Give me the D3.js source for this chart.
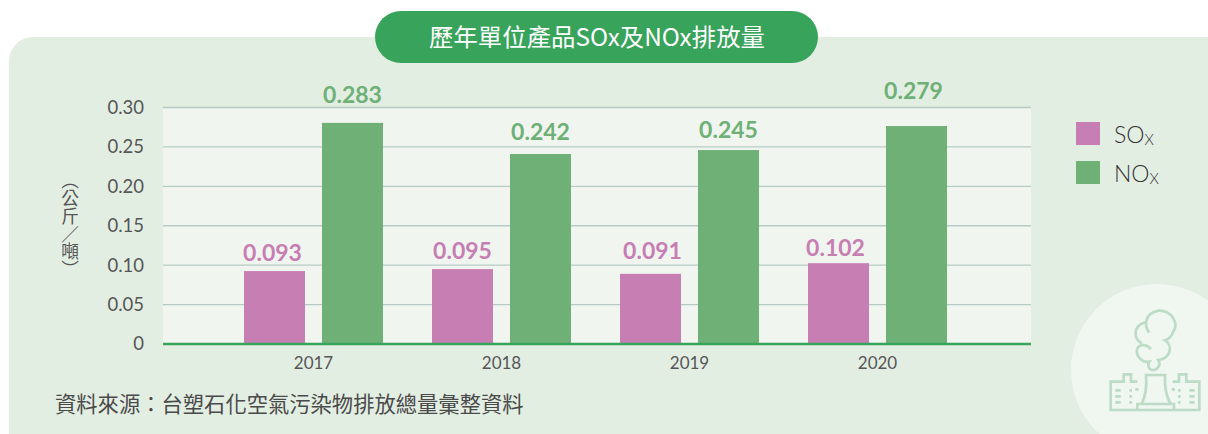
<!DOCTYPE html>
<html><head><meta charset="utf-8">
<script src="https://d3js.org/d3.v7.min.js"></script>
<style>
html,body{margin:0;padding:0;background:#fff;overflow:hidden}
svg{display:block}
text{font-family:Lato,"Noto Sans CJK TC",sans-serif}
</style></head><body>
<svg id="c" width="1208" height="434"></svg>
<script>
const title = "歷年單位產品SOx及NOx排放量";
const source = "資料來源：台塑石化空氣污染物排放總量彙整資料";
const yTitle = "（公斤／噸）";
const categories = ["2017","2018","2019","2020"];
const seriesNames = ["SOx","NOx"];
const soxPrinted = ["0.093","0.095","0.091","0.102"];
const noxPrinted = ["0.283","0.242","0.245","0.279"];
// heights as drawn in the picture (the bars differ slightly from their printed labels)
const soxBars = [0.0925,0.095,0.089,0.1025];
const noxBars = [0.2805,0.241,0.246,0.2765];
const soxLabelGap = [10,10,15,7];
const noxLabelGap = [19.5,14,12,27];
const soxLabelShift = [-2,0,2,-3];
const noxLabelShift = [0,0,0,-3];
const yTicks = [0,0.05,0.10,0.15,0.20,0.25,0.30];
const colors = {SOx:"#c77eb3",NOx:"#6eb076"};

const svg = d3.select("#c");
svg.append("rect").attr("x",9).attr("y",37).attr("width",1240).attr("height",440).attr("rx",24).attr("fill","#e3eee3");
svg.append("circle").attr("cx",1157).attr("cy",370).attr("r",86).attr("fill","#f0f6f0");

// icon
const icon = svg.append("g").attr("transform","translate(1050,280) scale(0.3333)")
  .attr("fill","none").attr("stroke","#bcdcc5").attr("stroke-width",8);
icon.append("path").attr("d","M298,158 C280,135 285,100 325,92 C365,90 387,130 370,155 C365,170 355,178 345,181 C368,195 365,235 325,240 C335,255 320,272 308,270 C295,268 292,255 298,245 C275,250 255,225 262,205 C268,195 285,188 303,207 M275,190 C250,175 248,140 285,127");
icon.append("path").attr("d","M262,305 H243 V283 H221 V305 H182 V390 H448 V305 H409 V283 H387 V305 H368");
icon.append("path").attr("d","M262,388 V372 H275 C286,350 291,320 288,285 H345 C343,320 349,350 362,372 H372 V388 M275,372 H362");
icon.append("path").attr("d","M196,331 H212 M196,349 H212 M196,367 H212 M418,331 H434 M418,349 H434 M418,367 H434");
icon.append("path").attr("d","M238,331 H246 M238,349 H246 M238,367 H246 M256,328 H266 M384,331 H392 M384,349 H392 M384,367 H392 M365,328 H375");

const yScale = d3.scaleLinear().domain([0,0.3]).range([344,107.5]);
const x0 = d3.scaleBand().domain(categories).range([219.5,971.5]);
const x1 = d3.scaleBand().domain(seriesNames).range([24.5,163.5]).paddingInner(0.218).paddingOuter(0);

svg.append("rect").attr("x",163).attr("y",yScale(0.3)).attr("width",868).attr("height",yScale(0)-yScale(0.3)).attr("fill","#f0f5ef");

const yAxis = d3.axisLeft(yScale).tickValues(yTicks).tickSize(0).tickPadding(19)
  .tickFormat(d=>d===0?"0":d3.format(".2f")(d));
const gy = svg.append("g").attr("transform","translate(163,0)").call(yAxis);
gy.select(".domain").remove();
gy.selectAll("text").attr("font-size",18.5).attr("fill","#565656").attr("font-family","Lato");
svg.append("g").selectAll("line").data(yTicks.filter(d=>d>0)).join("line")
  .attr("x1",163).attr("x2",1031).attr("y1",d=>yScale(d)).attr("y2",d=>yScale(d))
  .attr("stroke","#b7cbc6").attr("stroke-width",1.4);

const seriesData = [
  {k:"SOx",bars:soxBars,printed:soxPrinted,gap:soxLabelGap,shift:soxLabelShift},
  {k:"NOx",bars:noxBars,printed:noxPrinted,gap:noxLabelGap,shift:noxLabelShift}
];
seriesData.forEach(s=>{
  const g = svg.append("g");
  g.selectAll("rect").data(categories).join("rect")
    .attr("x",c=>x0(c)+x1(s.k)).attr("width",x1.bandwidth())
    .attr("y",(c,i)=>yScale(s.bars[i])).attr("height",(c,i)=>yScale(0)-yScale(s.bars[i]))
    .attr("fill",colors[s.k]);
  g.selectAll("text").data(categories).join("text")
    .attr("x",(c,i)=>x0(c)+x1(s.k)+x1.bandwidth()/2+s.shift[i])
    .attr("y",(c,i)=>yScale(s.bars[i])-s.gap[i])
    .attr("text-anchor","middle").attr("font-size",23).attr("font-weight",700)
    .attr("fill",colors[s.k]).text((c,i)=>s.printed[i]);
});
svg.append("line").attr("x1",163).attr("x2",1031).attr("y1",344).attr("y2",344).attr("stroke","#38a35b").attr("stroke-width",2.4);

const xAxis = d3.axisBottom(x0).tickSize(0).tickPadding(13);
const gx = svg.append("g").attr("transform","translate(0,344)").call(xAxis);
gx.select(".domain").remove();
gx.selectAll("text").attr("font-size",17).attr("fill","#565656").attr("font-family","Lato");

// title pill
svg.append("rect").attr("x",375).attr("y",11).attr("width",443).attr("height",52).attr("rx",26).attr("fill","#38a35b");
svg.append("text").attr("x",597).attr("y",45.5).attr("text-anchor","middle").attr("font-size",24.4).attr("font-weight",400)
  .attr("fill","#fff").style("font-family",'"Noto Sans CJK TC"').text(title);

// y title
svg.append("text").attr("transform","translate(70,225)").attr("text-anchor","middle")
  .attr("font-size",17.7).attr("fill","#555")
  .style("writing-mode","vertical-rl").style("font-family",'"Noto Sans CJK TC"').style("font-weight",400)
  .text(yTitle);

// source
svg.append("text").attr("x",55).attr("y",412).attr("font-size",21.3).attr("fill","#4a4a4a")
  .style("font-family",'"Noto Sans CJK TC"').style("font-weight",400).text(source);

// legend
const lg = svg.append("g").selectAll("g").data(seriesNames).join("g")
  .attr("transform",(d,i)=>`translate(1076,${122+i*39})`);
lg.append("rect").attr("width",24).attr("height",23).attr("fill",d=>colors[d]);
const lt = lg.append("text").attr("x",38).attr("y",21).attr("font-size",23).attr("font-weight",300).attr("fill","#333");
lt.append("tspan").text(d=>d.slice(0,2));
lt.append("tspan").attr("font-size",15).attr("dy",2).text(d=>d.slice(2).toUpperCase());
</script>
</body></html>
